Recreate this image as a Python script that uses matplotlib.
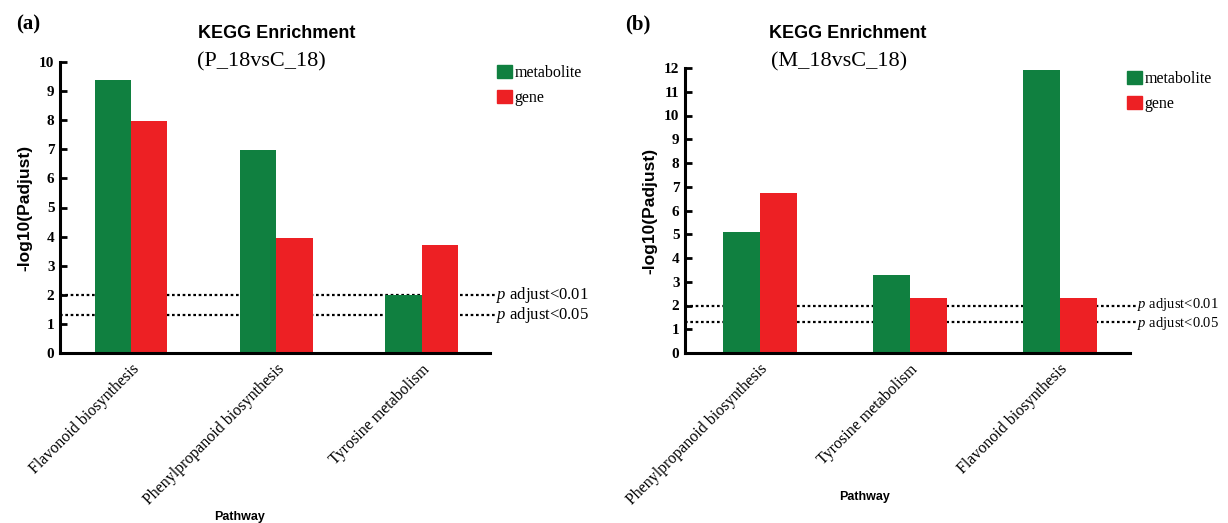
import matplotlib
matplotlib.use("Agg")
import matplotlib.pyplot as plt
import numpy as np
from matplotlib.patches import Patch

plt.rcParams['mathtext.fontset'] = 'custom'
plt.rcParams['mathtext.it'] = 'Liberation Serif:italic'
plt.rcParams['mathtext.rm'] = 'Liberation Serif'

# Panel (a) data
cats_a = ["Flavonoid biosynthesis", "Phenylpropanoid biosynthesis", "Tyrosine metabolism"]
metab_a = [9.38, 6.98, 2.0]
gene_a = [7.97, 3.95, 3.71]

# Panel (b) data
cats_b = ["Phenylpropanoid biosynthesis", "Tyrosine metabolism", "Flavonoid biosynthesis"]
metab_b = [5.10, 3.28, 11.9]
gene_b = [6.74, 2.32, 2.32]

thresholds = [2.0, 1.30]
thr_labels = [r"$\it{p}$ adjust<0.01", r"$\it{p}$ adjust<0.05"]

GREEN = "#108040"
RED = "#ed2024"
SERIF = "Liberation Serif"
W, H = 1228, 523

fig = plt.figure(figsize=(12.28, 5.23), dpi=100)


def fx(px):
    return px / W


def fy(py):
    return 1 - py / H


def panel(rect, cats, metab, gene, ymax, xlim, width, tag, subtitle, tagxy,
          title_x, sub_x, pathway_xy, leg_x, thr_size, thr_nudge):
    ax = fig.add_axes(rect)
    x = np.arange(len(cats))
    for t in thresholds:
        ax.plot([xlim[0], xlim[1] + 0.04], [t, t], ls=(0, (1.2, 1.2)), color="black",
                lw=1.6, zorder=1, clip_on=False)
    ax.bar(x - width / 2, metab, width, color=GREEN, zorder=2)
    ax.bar(x + width / 2, gene, width, color=RED, zorder=2)
    ax.set_xlim(*xlim)
    ax.set_ylim(0, ymax)
    ax.set_yticks(range(0, ymax + 1))
    ax.set_xticks(x)
    ax.set_xticklabels(cats, rotation=45, ha="right", rotation_mode="anchor",
                       family=SERIF, fontsize=11.5)
    for lab in ax.get_yticklabels():
        lab.set_family(SERIF)
        lab.set_fontweight("bold")
        lab.set_fontsize(11)
    ax.tick_params(axis="both", direction="in", length=5, width=2)
    ax.tick_params(axis="y", pad=4)
    ax.tick_params(axis="x", pad=6)
    for s in ["top", "right"]:
        ax.spines[s].set_visible(False)
    for s in ["left", "bottom"]:
        ax.spines[s].set_linewidth(2.2)
    ax.set_ylabel("-log10(Padjust)", fontweight="bold", fontsize=12.5,
                  family="Liberation Sans", labelpad=5)
    for t, lab, nd in zip(thresholds, thr_labels, thr_nudge):
        ax.text(1.015, t + nd, lab, transform=ax.get_yaxis_transform(), va="center",
                ha="left", fontsize=thr_size, family=SERIF)
    handles = [Patch(color=GREEN, label="metabolite"), Patch(color=RED, label="gene")]
    ax.legend(handles=handles, loc="upper left", bbox_to_anchor=(leg_x, 1.04),
              frameon=False, handlelength=0.9, handleheight=0.9, handletextpad=0.15,
              labelspacing=0.55, prop={"family": SERIF, "size": 11.5})
    fig.text(fx(title_x), fy(33), "KEGG Enrichment", ha="center", va="center",
             fontweight="bold", fontsize=13, family="Liberation Sans")
    fig.text(fx(sub_x), fy(62), subtitle, ha="center", va="center", fontsize=16,
             family=SERIF)
    fig.text(fx(tagxy[0]), fy(tagxy[1]), tag, ha="center", va="center", fontweight="bold",
             fontsize=15, family=SERIF)
    fig.text(fx(pathway_xy[0]), fy(pathway_xy[1]), "Pathway", ha="center", va="center",
             fontweight="bold", fontsize=9, family="Liberation Sans")
    return ax


panel([fx(60), fy(353), 430 / W, 291 / H], cats_a, metab_a, gene_a, 10,
      (-0.488, 2.47), 0.25, "(a)", "(P_18vsC_18)", (28, 24), 277, 261, (240, 517),
      0.984, 12, (0.0, 0.0))
panel([fx(685), fy(353), 445 / W, 285 / H], cats_b, metab_b, gene_b, 12,
      (-0.5, 2.47), 0.247, "(b)", "(M_18vsC_18)", (638, 24), 848, 839, (865, 497),
      0.962, 10.5, (0.04, -0.04))

fig.savefig("out.png", dpi=100)
